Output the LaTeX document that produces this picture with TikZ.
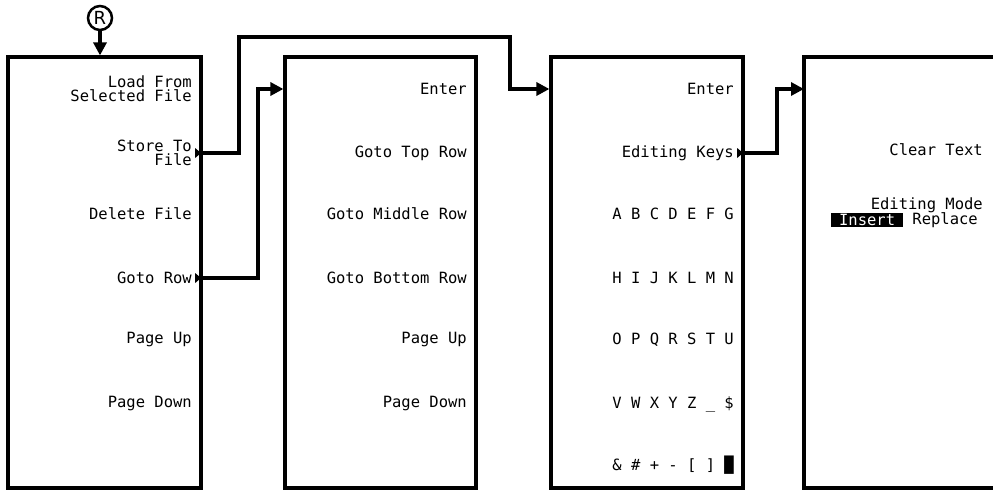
\documentclass[tikz,border=0pt]{standalone}
\usepackage{fontspec}
\setmonofont{DejaVu Sans Mono}
\setsansfont{DejaVu Sans}
\usetikzlibrary{arrows.meta}
\begin{document}
\begin{tikzpicture}[
    x=1pt, y=-1pt,
    font=\ttfamily\fontsize{15.5}{14}\selectfont,
    menu/.style={draw, line width=3.2pt, minimum width=#1, minimum height=431pt, inner sep=0pt},
    key/.style={anchor=east, inner sep=0pt, align=right},
    link/.style={line width=3.2pt, -{Triangle[length=13pt, width=13pt]}},
]
\useasboundingbox (0,0) rectangle (993,490);

% menu panels
\node[menu=193pt] (m1) at (104.5,272.5) {};
\node[menu=191pt] (m2) at (380.5,272.5) {};
\node[menu=192pt] (m3) at (647,272.5) {};
\coordinate (m4nw) at (804,57);
\coordinate (m4sw) at (804,488);
\draw[line width=3.2pt] (993,57) -- (m4nw) -- (m4sw) -- (993,488);

% first panel
\node[key] (load)    at (192,89)  {Load From\\Selected File};
\node[key] (store)   at (192,153) {Store To\\File};
\node[key] (delete)  at (192,214) {Delete File};
\node[key] (gotorow) at (192,278) {Goto Row};
\node[key] (pgup1)   at (192,340) {Page Up};
\node[key] (pgdn1)   at (192,404) {Page Down};

% second panel
\node[key] (enter2)  at (467,89)  {Enter};
\node[key] (top)     at (467,153) {Goto Top Row};
\node[key] (middle)  at (467,214) {Goto Middle Row};
\node[key] (bottom)  at (467,278) {Goto Bottom Row};
\node[key] (pgup2)   at (467,340) {Page Up};
\node[key] (pgdn2)   at (467,404) {Page Down};

% third panel
\node[key] (enter3)   at (734,89)  {Enter};
\node[key] (editkeys) at (734,153) {Editing Keys};
\node[key] (row1)     at (734,214) {A B C D E F G};
\node[key] (row2)     at (734,278) {H I J K L M N};
\node[key] (row3)     at (734,340) {O P Q R S T U};
\node[key] (row4)     at (734,404) {V W X Y Z \_ \$};
\node[key] (row5)     at (734,465) {\& \# + - [ ] █};

% fourth panel
\node[key] (clear) at (983,150) {Clear Text};
\node[key] (mode)  at (983,205) {Editing Mode};
\node[key] (repl)  at (978,220) {Replace};
\node[key, fill=black, text=white, inner xsep=8pt, minimum height=14pt] (ins)
    at ([xshift=-9pt]repl.west) {Insert};

% more-key markers
\foreach \k in {store,gotorow}
    \fill (m1.east |- \k) ++(-1.5,0) -- ++(-6,-5) -- ++(0,10) -- cycle;
\fill (m3.east |- editkeys) ++(-1.5,0) -- ++(-6,-5) -- ++(0,10) -- cycle;

% entry point
\node[circle, draw, line width=2.5pt, minimum size=24pt, inner sep=0pt,
      font=\sffamily\fontsize{18}{18}\selectfont] (reg) at (100,18) {R};
\draw[link] (reg.south) -- (reg |- m1.north);

% connectors
\draw[link] (m1.east |- store) -| (239,37) -| (510,89) -- (m3.west |- enter3);
\draw[link] (m1.east |- gotorow) -| (258,89) -- (m2.west |- enter2);
\draw[link] (m3.east |- editkeys) -| (777,89) -- (m4nw |- enter3);
\end{tikzpicture}
\end{document}
